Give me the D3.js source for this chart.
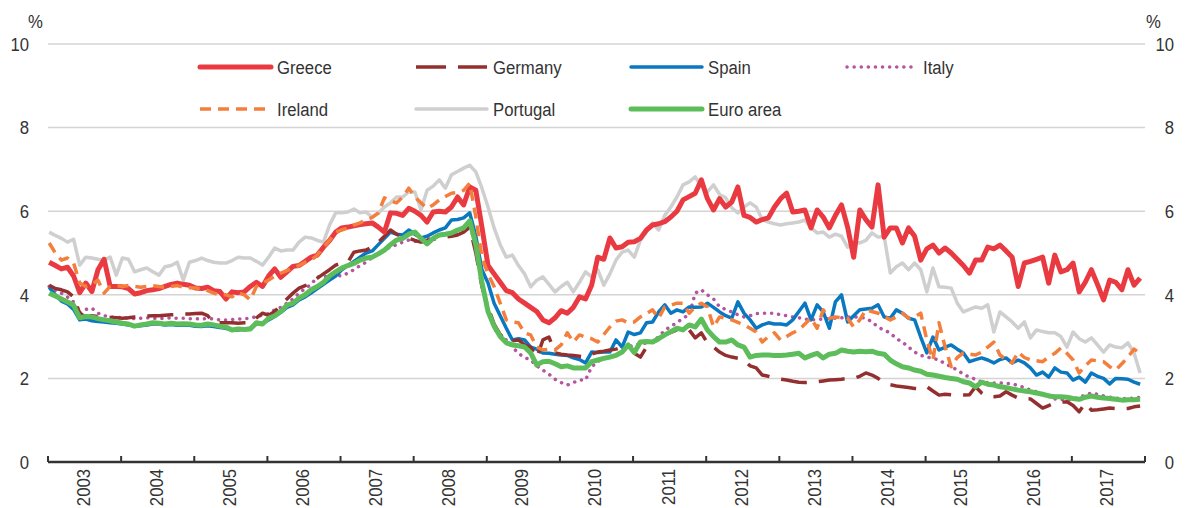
<!doctype html>
<html>
  <head>
    <meta charset="utf-8">
    <script src="https://cdn.jsdelivr.net/npm/d3@7/dist/d3.min.js"></script>
    <style>
      body {
        margin: 0;
        background-color: white;
      }
      svg {
        display: block;
        font-family: 'Liberation Sans Narrow', 'Arial Narrow', 'Liberation Sans', Arial, sans-serif;
      }
      .tick-label, .legend-label, .unit {
        fill: #333;
        font-size: 19px;
      }
      .grid line {
        stroke: #d4d4d4;
        stroke-width: 1.5;
      }
    </style>
  </head>
  <body>
    <svg class="chart"></svg>

  <script>

    // monthly averages, Jan 2003 - Dec 2017 (one row per year)
    const greece = [
      4.78, 4.70, 4.62, 4.66, 4.45, 4.05, 4.28, 4.08, 4.60, 4.85, 4.20, 4.20,
      4.19, 4.15, 4.02, 4.05, 4.10, 4.12, 4.15, 4.20, 4.25, 4.28, 4.25, 4.23,
      4.16, 4.15, 4.18, 4.10, 4.08, 3.90, 4.07, 4.05, 4.07, 4.20, 4.30, 4.20,
      4.45, 4.62, 4.42, 4.55, 4.68, 4.70, 4.80, 4.90, 4.95, 5.14, 5.30, 5.50,
      5.60, 5.62, 5.65, 5.68, 5.70, 5.72, 5.62, 5.50, 5.96, 5.95, 5.90, 6.07,
      6.00, 5.90, 5.74, 5.98, 6.00, 5.98, 6.10, 6.34, 6.15, 6.58, 6.50, 5.62,
      4.70, 4.50, 4.30, 4.10, 4.05, 3.90, 3.80, 3.70, 3.60, 3.40, 3.33, 3.45,
      3.62, 3.56, 3.70, 3.95, 3.90, 4.23, 4.90, 4.85, 5.36, 5.12, 5.15, 5.26,
      5.27, 5.35, 5.55, 5.67, 5.70, 5.75, 5.86, 6.00, 6.27, 6.35, 6.43, 6.75,
      6.30, 6.03, 6.30, 6.10, 6.22, 6.58, 5.90, 5.85, 5.74, 5.80, 5.84, 6.10,
      6.30, 6.43, 5.98, 6.00, 6.03, 5.60, 6.03, 5.86, 5.60, 5.90, 6.15, 5.62,
      4.90, 6.03, 5.80, 5.62, 6.63, 5.38, 5.60, 5.60, 5.24, 5.60, 5.40, 4.83,
      5.10, 5.19, 5.00, 5.12, 5.00, 4.85, 4.70, 4.52, 4.83, 4.83, 5.14, 5.10,
      5.19, 5.05, 4.90, 4.20, 4.76, 4.80, 4.85, 4.90, 4.28, 4.95, 4.55, 4.60,
      4.76, 4.07, 4.30, 4.60, 4.25, 3.88, 4.35, 4.30, 4.12, 4.60, 4.23, 4.40
    ]

    const germany = [
      4.23, 4.15, 4.12, 4.07, 3.95, 3.56, 3.47, 3.50, 3.48, 3.47, 3.46, 3.45,
      3.44, 3.45, 3.47, 3.48, 3.49, 3.50, 3.50, 3.51, 3.52, 3.53, 3.54, 3.54,
      3.55, 3.56, 3.50, 3.33, 3.33, 3.33, 3.33, 3.32, 3.33, 3.33, 3.45, 3.56,
      3.51, 3.60, 3.76, 3.90, 4.04, 4.16, 4.22, 4.28, 4.40, 4.50, 4.60, 4.71,
      4.76, 4.78, 5.02, 5.05, 5.07, 5.15, 5.26, 5.40, 5.55, 5.45, 5.38, 5.35,
      5.30, 5.26, 5.30, 5.33, 5.36, 5.38, 5.40, 5.43, 5.50, 5.62, 5.00, 4.20,
      3.70, 3.30, 3.05, 2.90, 2.90, 2.92, 2.80, 2.75, 2.49, 2.92, 2.99, 2.61,
      2.58, 2.56, 2.55, 2.53, 2.51, 2.58, 2.63, 2.65, 2.68, 2.70, 2.75, 2.80,
      2.60, 2.51, 2.75, 2.85, 2.95, 3.04, 3.10, 3.16, 3.16, 3.16, 2.97, 3.09,
      2.85, 2.75, 2.63, 2.55, 2.51, 2.48, 2.44, 2.30, 2.25, 2.08, 2.05, 2.00,
      1.98, 1.96, 1.93, 1.91, 1.90, 1.91, 1.92, 1.94, 1.96, 1.97, 1.98, 2.00,
      2.00, 2.05, 2.13, 2.08, 2.00, 1.89, 1.85, 1.82, 1.80, 1.78, 1.76, 1.75,
      1.80, 1.70, 1.60, 1.62, 1.61, 1.60, 1.60, 1.61, 1.80, 1.65, 1.56, 1.56,
      1.58, 1.68, 1.60, 1.53, 1.52, 1.51, 1.40, 1.29, 1.35, 1.41, 1.43, 1.44,
      1.35, 1.20, 1.41, 1.24, 1.25, 1.27, 1.29, 1.28, 1.27, 1.28, 1.32, 1.34
    ]

    const spain = [
      4.18, 4.00, 3.85, 3.78, 3.65, 3.40, 3.42, 3.38, 3.36, 3.35, 3.33, 3.32,
      3.30, 3.28, 3.25, 3.26, 3.28, 3.30, 3.30, 3.28, 3.29, 3.27, 3.28, 3.27,
      3.25, 3.24, 3.26, 3.24, 3.22, 3.20, 3.15, 3.16, 3.18, 3.20, 3.30, 3.32,
      3.40, 3.48, 3.58, 3.70, 3.76, 3.88, 3.95, 4.05, 4.15, 4.25, 4.35, 4.45,
      4.60, 4.70, 4.80, 4.90, 5.00, 5.05, 5.20, 5.35, 5.50, 5.45, 5.43, 5.55,
      5.45, 5.36, 5.40, 5.48, 5.55, 5.60, 5.79, 5.80, 5.84, 5.96, 5.40, 4.60,
      4.28, 3.80, 3.50, 3.20, 2.92, 2.95, 2.92, 2.75, 2.70, 2.61, 2.60, 2.58,
      2.56, 2.55, 2.49, 2.45, 2.37, 2.63, 2.62, 2.63, 2.63, 2.92, 2.75, 3.11,
      3.05, 3.09, 3.33, 3.35, 3.59, 3.76, 3.56, 3.64, 3.59, 3.71, 3.70, 3.71,
      3.80, 3.70, 3.59, 3.50, 3.44, 3.83, 3.56, 3.40, 3.20, 3.28, 3.33, 3.30,
      3.30, 3.28, 3.40, 3.60, 3.80, 3.40, 3.76, 3.59, 3.20, 3.83, 4.00, 3.35,
      3.50, 3.64, 3.66, 3.68, 3.76, 3.47, 3.44, 3.64, 3.56, 3.44, 3.40, 2.99,
      2.61, 2.99, 2.68, 2.75, 2.80, 2.70, 2.61, 2.40, 2.45, 2.49, 2.44, 2.37,
      2.45, 2.49, 2.37, 2.44, 2.37, 2.25, 2.08, 2.15, 2.03, 2.25, 2.15, 2.13,
      1.96, 2.03, 1.91, 2.13, 2.05, 2.00, 1.87, 2.00, 1.99, 1.98, 1.91, 1.86
    ]

    const italy = [
      4.20, 4.10, 4.04, 3.95, 3.83, 3.56, 3.65, 3.68, 3.56, 3.50, 3.47, 3.46,
      3.45, 3.44, 3.43, 3.44, 3.45, 3.44, 3.43, 3.44, 3.45, 3.44, 3.44, 3.43,
      3.43, 3.42, 3.44, 3.42, 3.40, 3.40, 3.41, 3.42, 3.43, 3.44, 3.48, 3.51,
      3.55, 3.64, 3.70, 3.80, 3.90, 4.04, 4.15, 4.25, 4.43, 4.43, 4.45, 4.47,
      4.45, 4.52, 4.60, 4.70, 4.78, 4.90, 5.00, 5.08, 5.14, 5.20, 5.26, 5.31,
      5.28, 5.26, 5.32, 5.38, 5.42, 5.48, 5.48, 5.50, 5.60, 5.72, 5.10, 4.30,
      3.60, 3.20, 3.00, 2.92, 2.75, 2.60, 2.50, 2.44, 2.30, 2.20, 2.10, 1.98,
      1.90, 1.84, 1.90, 1.96, 1.96, 2.28, 2.40, 2.49, 2.52, 2.56, 2.65, 2.75,
      2.80, 2.82, 2.85, 2.87, 3.00, 3.15, 3.25, 3.33, 3.45, 3.51, 4.04, 4.12,
      4.00, 3.90, 3.71, 3.65, 3.59, 3.52, 3.47, 3.50, 3.55, 3.56, 3.56, 3.56,
      3.52, 3.50, 3.47, 3.45, 3.42, 3.40, 3.41, 3.42, 3.43, 3.44, 3.45, 3.47,
      3.47, 3.46, 3.44, 3.35, 3.23, 3.15, 3.09, 2.95, 2.87, 2.75, 2.63, 2.55,
      2.51, 2.48, 2.44, 2.35, 2.28, 2.20, 2.10, 2.03, 1.98, 1.91, 1.90, 1.89,
      1.89, 1.88, 1.87, 1.83, 1.78, 1.72, 1.68, 1.63, 1.60, 1.51, 1.50, 1.48,
      1.50, 1.55, 1.60, 1.65, 1.62, 1.58, 1.55, 1.53, 1.52, 1.52, 1.53, 1.55
    ]

    const ireland = [
      5.24, 5.00, 4.83, 4.88, 4.76, 4.28, 4.20, 4.25, 4.35, 4.04, 4.20, 4.22,
      4.20, 4.22, 4.20, 4.18, 4.20, 4.22, 4.20, 4.18, 4.20, 4.22, 4.18, 4.17,
      4.16, 4.15, 4.10, 4.04, 4.00, 4.00, 3.95, 4.05, 4.00, 3.88, 4.20, 4.28,
      4.35, 4.45, 4.52, 4.58, 4.64, 4.70, 4.78, 4.83, 4.95, 5.14, 5.30, 5.50,
      5.55, 5.60, 5.67, 5.72, 5.79, 5.85, 5.96, 6.32, 6.25, 6.20, 6.34, 6.55,
      6.34, 6.20, 6.07, 6.15, 6.27, 6.35, 6.43, 6.45, 6.50, 6.67, 5.86, 4.90,
      4.50, 4.20, 3.80, 3.40, 3.35, 3.33, 3.09, 3.04, 2.75, 2.68, 2.70, 2.68,
      2.80, 3.09, 2.87, 3.04, 2.99, 2.95, 2.87, 3.05, 3.23, 3.37, 3.40, 3.33,
      3.35, 3.47, 3.55, 3.64, 3.44, 3.71, 3.75, 3.80, 3.80, 3.56, 3.71, 3.80,
      3.71, 3.23, 3.47, 3.44, 3.40, 3.34, 3.28, 3.20, 3.11, 2.87, 3.00, 3.09,
      2.92, 3.00, 3.09, 3.16, 3.30, 3.44, 3.20, 3.64, 3.44, 3.47, 3.45, 3.44,
      3.23, 3.40, 3.64, 3.60, 3.56, 3.48, 3.40, 3.47, 3.56, 3.44, 3.47, 3.56,
      2.92, 2.44, 3.33, 2.75, 2.28, 2.50, 2.61, 2.58, 2.56, 2.63, 2.75, 2.87,
      2.56, 2.45, 2.37, 2.63, 2.50, 2.44, 2.42, 2.40, 2.51, 2.60, 2.73, 2.60,
      2.44, 2.13, 2.30, 2.44, 2.42, 2.40, 2.28, 2.20, 2.35, 2.51, 2.70, 2.60
    ]

    const portugal = [
      5.50, 5.42, 5.35, 5.26, 5.33, 4.71, 4.90, 4.88, 4.85, 4.83, 4.90, 4.47,
      4.88, 4.85, 4.55, 4.60, 4.64, 4.55, 4.47, 4.67, 4.70, 4.78, 4.35, 4.78,
      4.82, 4.88, 4.82, 4.78, 4.76, 4.76, 4.82, 4.90, 4.88, 4.88, 4.80, 4.71,
      4.90, 5.12, 5.05, 5.07, 5.07, 5.26, 5.38, 5.36, 5.30, 5.26, 5.67, 5.96,
      5.96, 5.98, 6.05, 5.96, 5.98, 5.86, 5.95, 6.10, 6.20, 6.34, 6.34, 6.46,
      6.46, 6.03, 6.50, 6.60, 6.75, 6.55, 6.87, 6.95, 7.03, 7.10, 6.94, 6.55,
      6.10, 5.60, 5.20, 4.90, 4.95, 4.70, 4.50, 4.19, 4.35, 4.43, 4.25, 4.07,
      4.20, 4.30, 4.07, 4.30, 4.55, 4.43, 4.60, 4.23, 4.50, 4.83, 5.02, 5.07,
      4.90, 5.30, 5.50, 5.72, 5.55, 5.90, 6.10, 6.34, 6.63, 6.70, 6.82, 6.60,
      6.46, 6.63, 6.40, 6.32, 6.08, 5.96, 6.10, 6.20, 6.10, 5.80, 5.74, 5.70,
      5.67, 5.70, 5.72, 5.74, 5.79, 5.60, 5.48, 5.50, 5.38, 5.45, 5.40, 5.14,
      5.26, 5.24, 5.30, 5.48, 5.38, 5.40, 4.52, 4.67, 4.76, 4.60, 4.76, 4.60,
      4.07, 4.64, 4.19, 4.18, 4.16, 3.80, 3.59, 3.65, 3.71, 3.68, 3.76, 3.11,
      3.59, 3.47, 3.35, 3.20, 3.35, 2.97, 3.16, 3.12, 3.09, 3.09, 3.00, 2.75,
      3.11, 2.95, 2.87, 2.97, 2.80, 2.63, 2.80, 2.75, 2.73, 2.85, 2.61, 2.13
    ]

    const euroArea = [
      4.04, 3.97, 3.90, 3.83, 3.75, 3.45, 3.48, 3.47, 3.43, 3.40, 3.38, 3.35,
      3.32, 3.30, 3.25, 3.28, 3.30, 3.33, 3.32, 3.30, 3.32, 3.30, 3.31, 3.30,
      3.28, 3.27, 3.30, 3.28, 3.25, 3.23, 3.16, 3.18, 3.17, 3.18, 3.33, 3.30,
      3.44, 3.50, 3.60, 3.75, 3.80, 3.92, 4.00, 4.12, 4.20, 4.30, 4.45, 4.55,
      4.64, 4.70, 4.75, 4.83, 4.88, 4.90, 4.98, 5.07, 5.20, 5.31, 5.35, 5.45,
      5.50, 5.35, 5.22, 5.35, 5.43, 5.45, 5.48, 5.55, 5.60, 5.77, 5.20, 4.30,
      3.60, 3.25, 3.00, 2.85, 2.80, 2.78, 2.75, 2.61, 2.32, 2.40, 2.41, 2.35,
      2.28, 2.30, 2.25, 2.25, 2.25, 2.40, 2.44, 2.48, 2.51, 2.55, 2.63, 2.80,
      2.62, 2.87, 2.88, 2.87, 2.95, 3.04, 3.12, 3.20, 3.16, 3.28, 3.23, 3.42,
      3.16, 3.00, 2.87, 2.87, 2.92, 2.80, 2.75, 2.51, 2.55, 2.56, 2.56, 2.55,
      2.55, 2.56, 2.58, 2.60, 2.49, 2.55, 2.60, 2.49, 2.58, 2.60, 2.68, 2.65,
      2.63, 2.65, 2.64, 2.65, 2.60, 2.58, 2.44, 2.35, 2.28, 2.25, 2.20, 2.17,
      2.10, 2.08, 2.05, 2.02, 2.00, 1.98, 1.92, 1.89, 1.80, 1.91, 1.86, 1.84,
      1.80, 1.78, 1.75, 1.72, 1.70, 1.68, 1.65, 1.62, 1.58, 1.56, 1.56, 1.55,
      1.52, 1.50, 1.55, 1.58, 1.55, 1.53, 1.52, 1.50, 1.48, 1.49, 1.49, 1.50
    ]

    const years = ["2003","2004","2005","2006","2007","2008","2009","2010",
                   "2011","2012","2013","2014","2015","2016","2017"]
    const yTicks = [0, 2, 4, 6, 8, 10]

    const series = [
      { name: "Portugal",  values: portugal, color: "#cfcfcf", width: 3.5, dash: null },
      { name: "Italy",     values: italy,    color: "#b4559f", width: 3.5, dash: "0.1 7" },
      { name: "Spain",     values: spain,    color: "#0a77c1", width: 3.5, dash: null },
      { name: "Germany",   values: germany,  color: "#93302f", width: 3.5, dash: "26 12" },
      { name: "Greece",    values: greece,   color: "#ea3a41", width: 5,   dash: null },
      { name: "Ireland",   values: ireland,  color: "#f47f3c", width: 3.5, dash: "11 7" },
      { name: "Euro area", values: euroArea, color: "#5dbd5b", width: 5,   dash: null }
    ]

    // legend layout: [series name, column, row]
    const legendOrder = [
      ["Greece", 0, 0], ["Germany", 1, 0], ["Spain", 2, 0], ["Italy", 3, 0],
      ["Ireland", 0, 1], ["Portugal", 1, 1], ["Euro area", 2, 1]
    ]

    const width = 1189,
          height = 508
    const margin = { left: 48, right: 44, top: 44, bottom: 46 }

    // the original uses a narrow face; squeeze the regular one to match
    const squeeze = 0.88

    const svg = d3.select("svg")
                .attr("width", width)
                .attr("height", height)

    const x = d3.scaleLinear()
                .domain([0, years.length * 12])
                .range([margin.left, width - margin.right])

    const y = d3.scaleLinear()
                .domain([0, 10])
                .range([height - margin.bottom, margin.top])

    // gridlines
    svg.append("g")
        .attr("class", "grid")
      .selectAll("line")
      .data(yTicks.filter(d => d > 0))
      .enter().append("line")
        .attr("x1", x.range()[0])
        .attr("x2", x.range()[1])
        .attr("y1", d => y(d))
        .attr("y2", d => y(d))

    // y labels, both sides
    for (let side of [29, 1174]) {
      svg.append("g")
        .selectAll("text")
        .data(yTicks)
        .enter().append("text")
          .attr("class", "tick-label")
          .attr("transform", d => "translate(" + side + "," + y(d) + ") scale(" + squeeze + ",1)")
          .attr("dy", "0.36em")
          .attr("text-anchor", "end")
          .text(d => d)
    }

    for (let ux of [28, 1146]) {
      svg.append("text")
          .attr("class", "unit")
          .attr("transform", "translate(" + ux + ",28) scale(" + squeeze + ",1)")
          .text("%")
    }

    // series lines
    const line = d3.line()
                   .x((d, i) => x(i + 0.2))
                   .y(d => y(d))

    svg.append("g")
        .attr("class", "lines")
      .selectAll("path")
      .data(series)
      .enter().append("path")
        .attr("fill", "none")
        .attr("stroke", d => d.color)
        .attr("stroke-width", d => d.width)
        .attr("stroke-dasharray", d => d.dash)
        .attr("stroke-linecap", d => d.name == "Italy" ? "round" : "butt")
        .attr("stroke-linejoin", "round")
        .attr("d", d => line(d.values))

    // x axis: baseline, year ticks pointing up, rotated year labels
    const xAxis = svg.append("g")
        .attr("class", "x-axis")

    xAxis.append("line")
        .attr("x1", x.range()[0])
        .attr("x2", x.range()[1])
        .attr("y1", y(0))
        .attr("y2", y(0))
        .attr("stroke", "#333")
        .attr("stroke-width", 2.5)

    xAxis.selectAll(".year-tick")
      .data(d3.range(years.length + 1))
      .enter().append("line")
        .attr("class", "year-tick")
        .attr("x1", d => x(d * 12))
        .attr("x2", d => x(d * 12))
        .attr("y1", y(0))
        .attr("y2", y(0) - 6)
        .attr("stroke", "#333")
        .attr("stroke-width", 2)

    xAxis.selectAll(".year-label")
      .data(years)
      .enter().append("text")
        .attr("class", "tick-label year-label")
        .attr("text-anchor", "end")
        .attr("dy", "0.26em")
        .attr("transform", (d, i) => "translate(" + x(i * 12 + 6) + "," + (y(0) + 7) + ") rotate(-90) scale(" + squeeze + ",1)")
        .text(d => d)

    // legend
    const colX = [200, 416, 631, 847],
          rowY = [67, 109]

    const legend = svg.append("g")
        .attr("class", "legend")
      .selectAll("g")
      .data(legendOrder)
      .enter().append("g")
        .attr("transform", d => "translate(" + colX[d[1]] + "," + rowY[d[2]] + ")")

    legend.append("line")
        .each(function(d) {
          const s = series.find(e => e.name == d[0])
          d3.select(this)
            .attr("x1", 0)
            .attr("x2", s.name == "Italy" ? 66 : 71)
            .attr("stroke", s.color)
            .attr("stroke-width", s.width)
            .attr("stroke-dasharray", s.name == "Germany" ? "30 12" : s.dash)
            .attr("stroke-linecap", s.name == "Italy" || s.dash == null ? "round" : "butt")
        })

    legend.append("text")
        .attr("class", "legend-label")
        .attr("transform", d => "translate(" + (d[0] == "Italy" ? 76 : 77) + ",0) scale(" + squeeze + ",1)")
        .attr("dy", "0.36em")
        .text(d => d[0])

  </script>
  </body>
</html>
